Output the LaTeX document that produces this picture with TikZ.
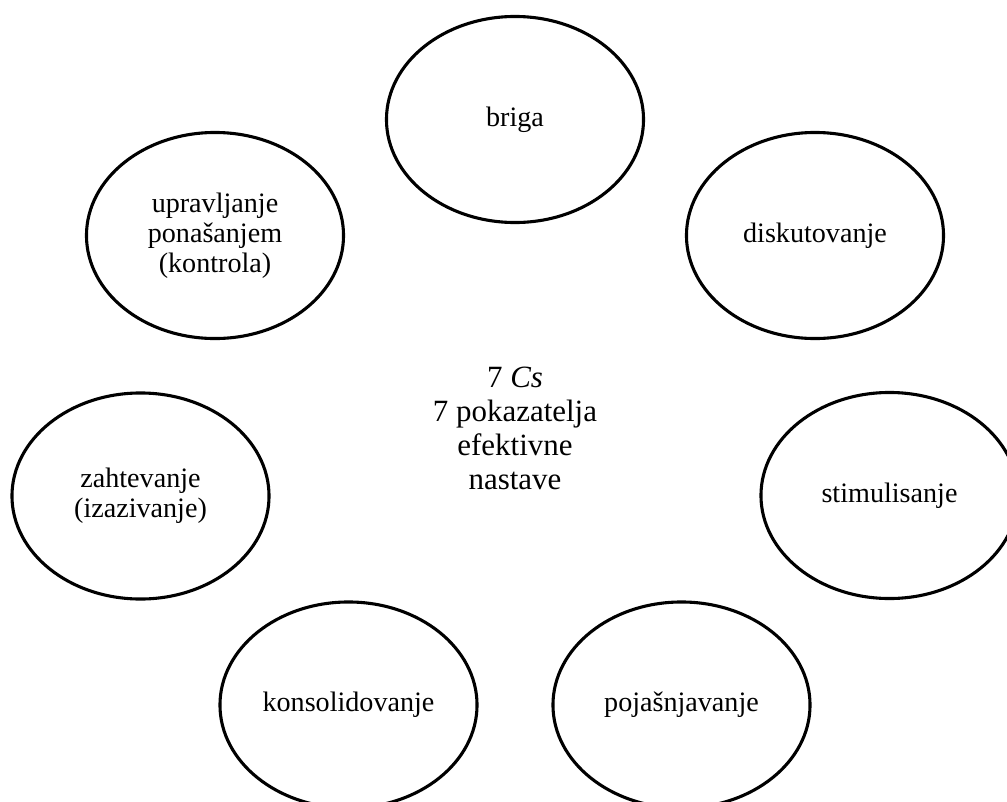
\documentclass[tikz,border=0pt]{standalone}
\usepackage{fontspec}
\setmainfont{Liberation Serif}
\usetikzlibrary{shapes.geometric}
\begin{document}
\begin{tikzpicture}[x=0.025cm,y=-0.025cm,
  krug/.style={ellipse,draw,line width=2.2pt,minimum width=6.425cm,minimum height=5.15cm,
    inner sep=0pt,align=center,font=\fontsize{20}{21.3}\selectfont},
  sredina/.style={align=center,font=\fontsize{22}{24.2}\selectfont}]
  \clip (0,0) rectangle (1007,802);
  \node[krug] (briga) at (515,119.5) {briga};
  \node[krug] (diskutovanje) at (815,235.5) {diskutovanje};
  \node[krug] (upravljanje) at (215,235.5) {upravljanje\\ponašanjem\\(kontrola)};
  \node[krug] (stimulisanje) at (889.5,495.5) {stimulisanje};
  \node[krug] (zahtevanje) at (140.5,496) {zahtevanje\\(izazivanje)};
  \node[krug] (konsolidovanje) at (348.5,705) {konsolidovanje};
  \node[krug] (pojasnjavanje) at (681.5,705) {pojašnjavanje};
  \node[sredina] (sedam) at (515,428) {7 \textit{Cs}\\7 pokazatelja\\efektivne\\nastave};
\end{tikzpicture}
\end{document}
